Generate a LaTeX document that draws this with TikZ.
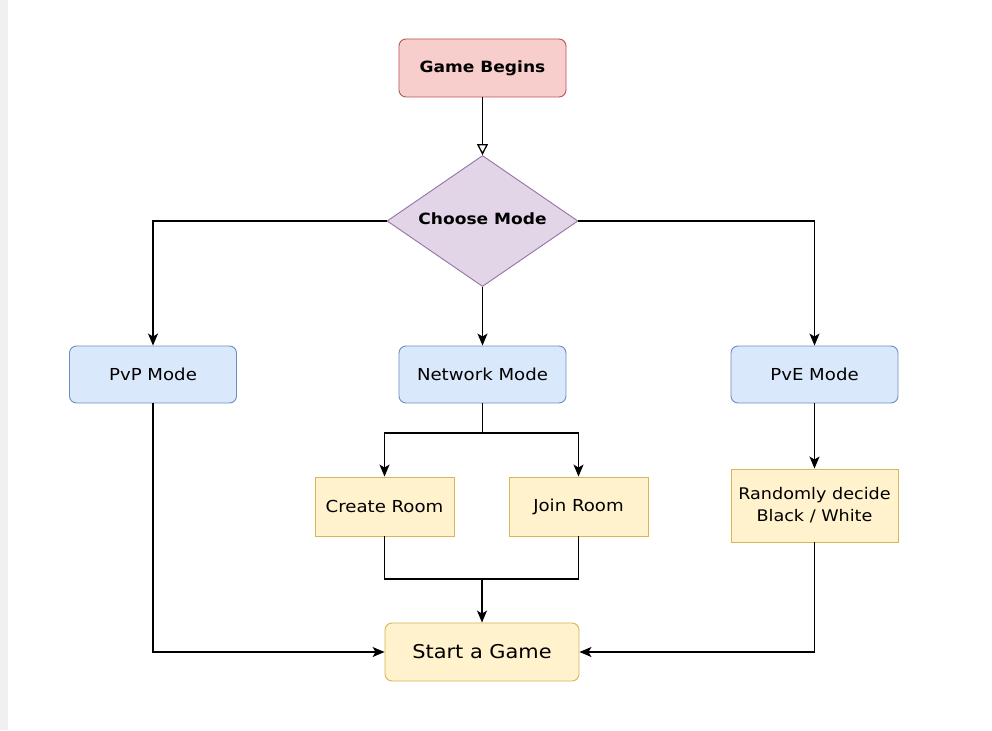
\documentclass[tikz,border=0pt]{standalone}
\usepackage{fontspec}
\setmainfont{DejaVu Sans}[FakeStretch=1.1]
\usetikzlibrary{shapes.geometric,arrows.meta,positioning}
\definecolor{redfill}{HTML}{F8CECC}\definecolor{redline}{HTML}{B85450}
\definecolor{purfill}{HTML}{E1D5E7}\definecolor{purline}{HTML}{9673A6}
\definecolor{bluefill}{HTML}{DAE8FC}\definecolor{blueline}{HTML}{6C8EBF}
\definecolor{yelfill}{HTML}{FFF2CC}\definecolor{yelline}{HTML}{D6B656}
\tikzset{
  px/.style={x=1pt,y=-1pt},
  base/.style={draw, line width=0.9pt, inner sep=0pt, align=center, font=\fontsize{16.5}{21}\selectfont},
  redbox/.style={base, rounded corners=7pt, fill=redfill, draw=redline, minimum width=167pt, minimum height=58pt},
  bluebox/.style={base, rounded corners=7pt, fill=bluefill, draw=blueline, minimum width=167pt, minimum height=57pt},
  yelbox/.style={base, fill=yelfill, draw=yelline},
  decision/.style={base, diamond, aspect=1.46, fill=purfill, draw=purline, minimum width=191pt, minimum height=131pt},
  conn/.style={line width=1.3pt, -{Stealth[length=12pt,width=10pt,inset=3pt]}},
  plain/.style={line width=1.3pt}
}
\begin{document}
\begin{tikzpicture}[px]
\useasboundingbox (0,0) rectangle (992,730);
\fill[white] (0,0) rectangle (992,730);
\fill[black!6] (0,0) rectangle (8,730);
\node[redbox, font=\bfseries\fontsize{15.5}{18}\selectfont] (begin) at (482.5,68) {Game Begins};
\node[decision] (choose) at (482.5,221) {};
\node[font=\bfseries\fontsize{15.5}{18}\selectfont] (chooselabel) at (482.5,219) {Choose Mode};
\node[bluebox] (pvp) at (153,374.5) {PvP Mode};
\node[bluebox] (net) at (482.5,374.5) {Network Mode};
\node[bluebox] (pve) at (814.5,374.5) {PvE Mode};
\node[yelbox, minimum width=139pt, minimum height=59pt] (create) at (384.5,506.5) {Create Room};
\node[yelbox, minimum width=139pt, minimum height=59pt] (join) at (578.5,506.5) {Join Room};
\node[yelbox, minimum width=167pt, minimum height=73pt, font=\fontsize{16}{22}\selectfont] (rand) at (814.5,505.5) {Randomly decide\\Black / White};
\node[yelbox, rounded corners=7pt, minimum width=194pt, minimum height=58pt, font=\fontsize{19}{22}\selectfont] (start) at (482,652) {Start a Game};
\coordinate (nsplit) at (482.5,433);
\coordinate (rmerge) at (482,579);
\draw[line width=1.3pt, -{Triangle[open,length=11pt,width=11pt]}] (begin.south) -- (choose.north);
\draw[conn] (choose.west) -| (pvp.north);
\draw[conn] (choose.east) -| (pve.north);
\draw[conn] (choose.south) -- (net.north);
\draw[plain] (net.south) -- (nsplit);
\draw[conn] (nsplit) -| (create.north);
\draw[conn] (nsplit) -| (join.north);
\draw[plain] (create.south) |- (rmerge);
\draw[plain] (join.south) |- (rmerge);
\draw[conn] (rmerge) -- (start.north);
\draw[conn] (pve.south) -- (rand.north);
\draw[conn] (pvp.south) |- (start.west);
\draw[conn] (rand.south) |- (start.east);
\end{tikzpicture}
\end{document}
